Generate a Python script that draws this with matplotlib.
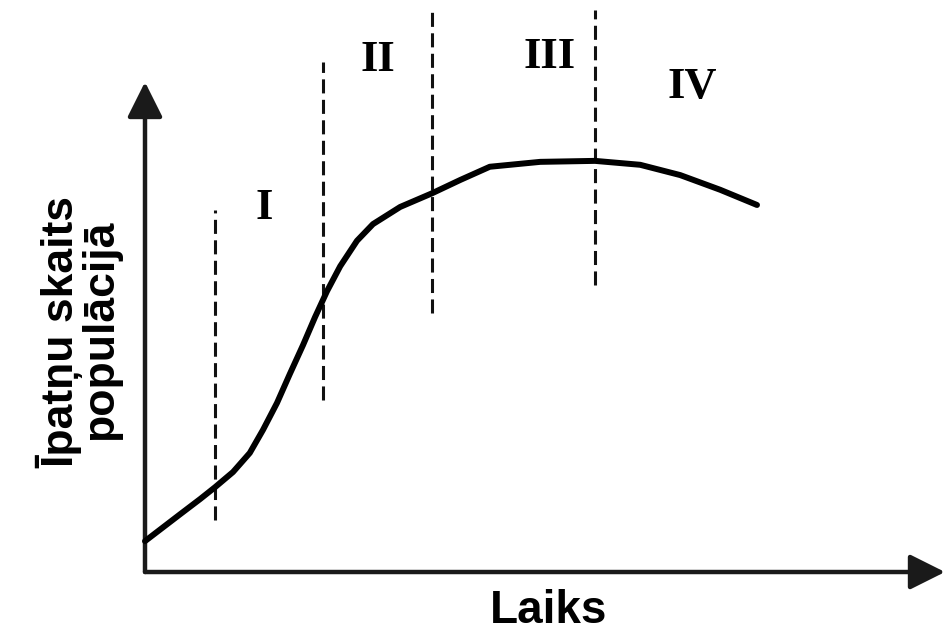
import matplotlib
matplotlib.use('Agg')
import matplotlib.pyplot as plt

# population growth curve (time, number of individuals), arbitrary units
time = [0, 4.4, 6.9, 8.75, 11.0, 13.1, 14.75, 16.5, 18.1, 19.75, 21.25,
        22.75, 24.4, 26.5, 28.5, 31.9, 35.9, 39.4, 43.1, 49.4, 56.25,
        61.9, 66.9, 71.9, 76.5]
population = [6.3, 11.8, 14.9, 17.3, 20.4, 24.3, 29.0, 34.5, 40.4, 46.3, 52.0,
              57.3, 62.4, 67.6, 71.0, 74.5, 77.3, 80.0, 82.7, 83.7, 83.9,
              83.1, 81.0, 78.0, 74.9]

# phase boundaries: x position and vertical extent of each dashed line
phase_x = [8.75, 22.25, 35.9, 56.25]
phase_bottom = [10.6, 35.1, 52.9, 58.6]
phase_top = [73.9, 104.1, 115.1, 114.7]

# phase names and where they sit
phase_names = ['I', 'II', 'III', 'IV']
phase_label_x = [14.9, 29.1, 50.6, 68.4]
phase_label_y = [74.3, 104.5, 105.1, 99.0]

fig = plt.figure(figsize=(9.48, 6.34), dpi=100)
ax = fig.add_axes([0, 0, 1, 1])
ax.set_xlim(-18.125, 100.375)
ax.set_ylim(-12.65, 116.73)
ax.axis('off')

axis_color = '#1a1a1a'
head = dict(arrowstyle='-|>', lw=3.2, color=axis_color,
            mutation_scale=54, shrinkA=0, shrinkB=0)
ax.annotate('', xy=(0, 100), xytext=(0, 0), arrowprops=head)
ax.annotate('', xy=(100, 0), xytext=(0, 0), arrowprops=head)

# dashed phase boundaries
for x, y0, y1 in zip(phase_x, phase_bottom, phase_top):
    ax.plot([x, x], [y0, y1], color='#111111', lw=2.2,
            linestyle=(0, (4.6, 2.1)))

ax.plot(time, population, color='black', lw=4.3,
        solid_joinstyle='round', solid_capstyle='round', zorder=5)

for name, x, y in zip(phase_names, phase_label_x, phase_label_y):
    ax.text(x, y, name, ha='center', va='center', fontsize=32,
            fontweight='bold', family='Liberation Serif')

ax.text(50.4, -10.5, 'Laiks', ha='center', va='baseline', fontsize=33,
        fontweight='bold', family='Liberation Sans')

ax.text(-10.6, 49.0, 'Īpatņu skaits', rotation=90, ha='center', va='center',
        fontsize=32, fontweight='bold', family='Liberation Sans')
ax.text(-5.6, 49.4, 'populācijā', rotation=90, ha='center', va='center',
        fontsize=32, fontweight='bold', family='Liberation Sans')

fig.savefig('out.png', dpi=100, facecolor='white')
